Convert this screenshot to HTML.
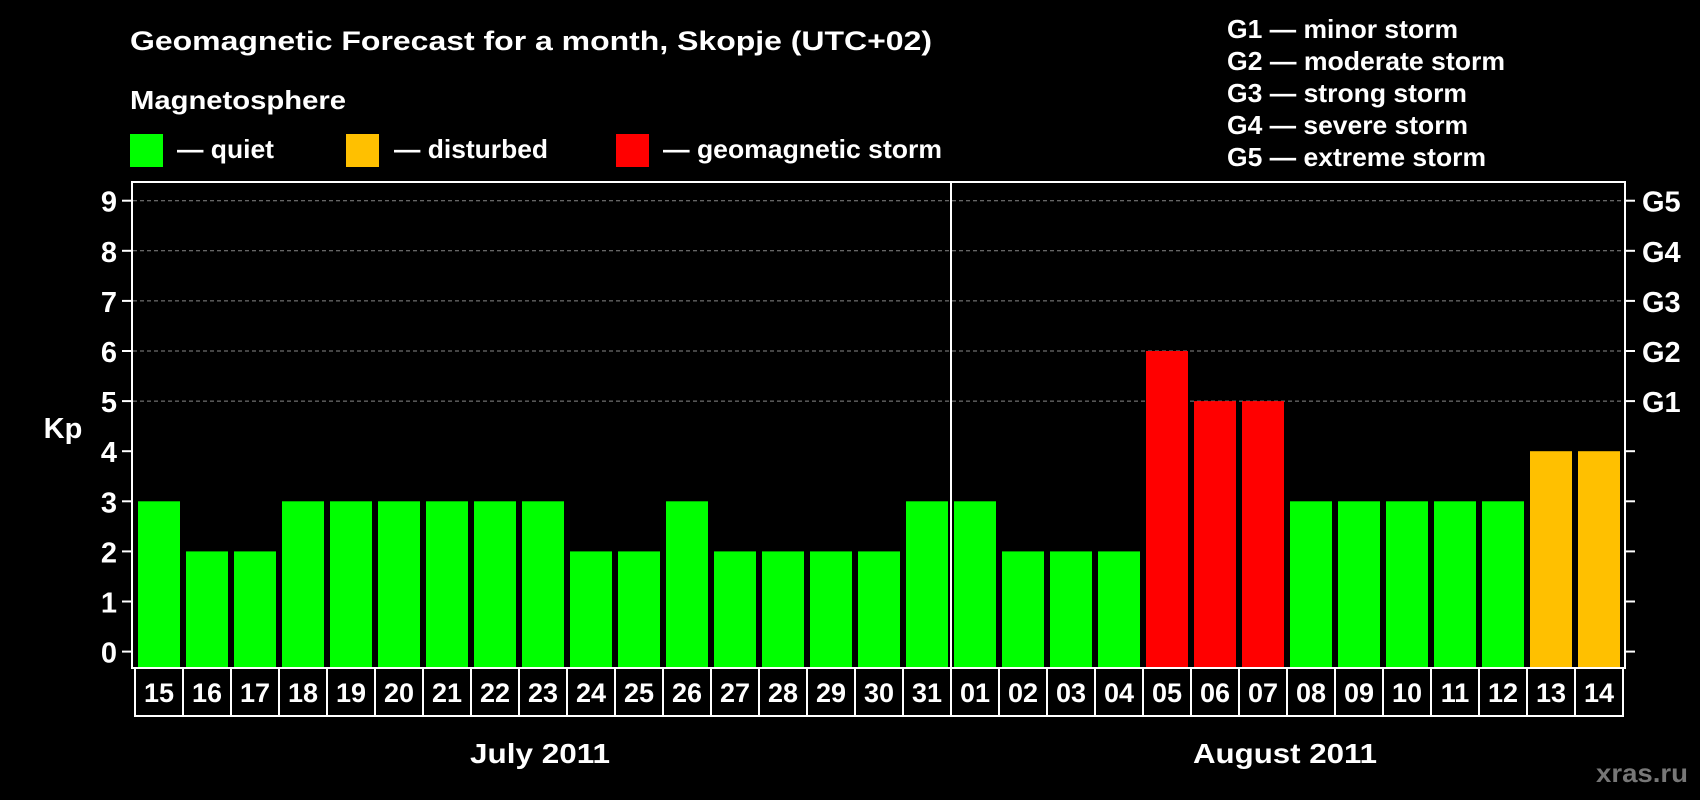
<!DOCTYPE html>
<html><head><meta charset="utf-8"><style>
html,body{margin:0;padding:0;background:#000;}
svg{display:block;font-family:"Liberation Sans",Arial,sans-serif;font-weight:bold;}
</style></head><body>
<svg id="chart" width="1700" height="800" viewBox="0 0 1700 800">
<rect x="0" y="0" width="1700" height="800" fill="#000"/>
<text x="130" y="50" fill="#fff" font-size="27" textLength="802" lengthAdjust="spacingAndGlyphs">Geomagnetic Forecast for a month, Skopje (UTC+02)</text>
<text x="130" y="109" fill="#fff" font-size="26" textLength="216" lengthAdjust="spacingAndGlyphs">Magnetosphere</text>
<g>
<rect x="130" y="134" width="33" height="33" fill="#00ff00"/>
<text x="177" y="158" fill="#fff" font-size="26" textLength="97" lengthAdjust="spacingAndGlyphs">— quiet</text></g>
<g>
<rect x="346" y="134" width="33" height="33" fill="#ffc000"/>
<text x="394" y="158" fill="#fff" font-size="26" textLength="154" lengthAdjust="spacingAndGlyphs">— disturbed</text></g>
<g>
<rect x="616" y="134" width="33" height="33" fill="#ff0000"/>
<text x="663" y="158" fill="#fff" font-size="26" textLength="279" lengthAdjust="spacingAndGlyphs">— geomagnetic storm</text></g>
<g fill="#fff" font-size="26">
<text x="1227" y="38" textLength="231" lengthAdjust="spacingAndGlyphs">G1 — minor storm</text>
<text x="1227" y="70" textLength="278" lengthAdjust="spacingAndGlyphs">G2 — moderate storm</text>
<text x="1227" y="102" textLength="240" lengthAdjust="spacingAndGlyphs">G3 — strong storm</text>
<text x="1227" y="134" textLength="241" lengthAdjust="spacingAndGlyphs">G4 — severe storm</text>
<text x="1227" y="166" textLength="259" lengthAdjust="spacingAndGlyphs">G5 — extreme storm</text>
</g>
<text x="63" y="438" fill="#fff" font-size="29" text-anchor="middle">Kp</text>
<g id="plot"></g>
<text x="540" y="763" fill="#fff" font-size="28" text-anchor="middle" textLength="140" lengthAdjust="spacingAndGlyphs">July 2011</text>
<text x="1285" y="763" fill="#fff" font-size="28" text-anchor="middle" textLength="184" lengthAdjust="spacingAndGlyphs">August 2011</text>
<text x="1688" y="782" fill="#777" font-size="26" text-anchor="end" textLength="92" lengthAdjust="spacingAndGlyphs">xras.ru</text>
</svg>
<script>
const days = ["15","16","17","18","19","20","21","22","23","24","25","26","27","28","29","30","31","01","02","03","04","05","06","07","08","09","10","11","12","13","14"];
const kpValues = [3,2,2,3,3,3,3,3,3,2,2,3,2,2,2,2,3,3,2,2,2,6,5,5,3,3,3,3,3,4,4];
const yTicks = [0,1,2,3,4,5,6,7,8,9];
const gLabels = ["G1","G2","G3","G4","G5"];
const gValues = [5,6,7,8,9];

const NS = "http://www.w3.org/2000/svg";
const plot = document.getElementById("plot");
const left = 135, step = 48, barW = 42;
const y0 = 651.6, unit = 50.1;
const frameTop = 182, frameBot = 668;
const yS = v => y0 - v * unit;
const xS = i => left + step * i;
function mk(tag, attrs){const e=document.createElementNS(NS,tag);for(const k in attrs)e.setAttribute(k,attrs[k]);plot.appendChild(e);return e;}
function color(v){return v>=5?"#ff0000":(v>=4?"#ffc000":"#00ff00");}

gValues.forEach(v=>{
  const l=mk("line",{x1:133,x2:1623,y1:yS(v),y2:yS(v),stroke:"#888","stroke-width":1,"stroke-dasharray":"4,3"});
  
  
});
kpValues.forEach((v,i)=>{
  const r=mk("rect",{x:xS(i)+3,y:yS(v),width:barW,height:frameBot-yS(v),fill:color(v)});
  
  
});
const fr=mk("rect",{x:132,y:frameTop,width:1493,height:frameBot-frameTop,fill:"none",stroke:"#fff","stroke-width":2});


const dv=mk("line",{x1:xS(17),x2:xS(17),y1:frameTop,y2:frameBot,stroke:"#fff","stroke-width":2});


yTicks.forEach(v=>{
  const t=mk("line",{x1:122,x2:132,y1:yS(v),y2:yS(v),stroke:"#fff","stroke-width":2});
  
  
  const t2=mk("line",{x1:1625,x2:1635,y1:yS(v),y2:yS(v),stroke:"#fff","stroke-width":2});
  
  
  const lb=mk("text",{x:117,y:yS(v)+11,fill:"#fff","font-size":29,"text-anchor":"end"});
  lb.textContent=v;
  
  
});
gLabels.forEach((g,i)=>{
  const lb=mk("text",{x:1642,y:yS(gValues[i])+11,fill:"#fff","font-size":29});
  lb.textContent=g;
  
  
});
days.forEach((d,i)=>{
  const b=mk("rect",{x:xS(i),y:frameBot,width:step,height:48,fill:"none",stroke:"#fff","stroke-width":2});
  
  
  const t=mk("text",{x:xS(i)+step/2,y:frameBot+34,fill:"#fff","font-size":27,"text-anchor":"middle"});
  t.textContent=d;
  
  
});
</script>
</body></html>
